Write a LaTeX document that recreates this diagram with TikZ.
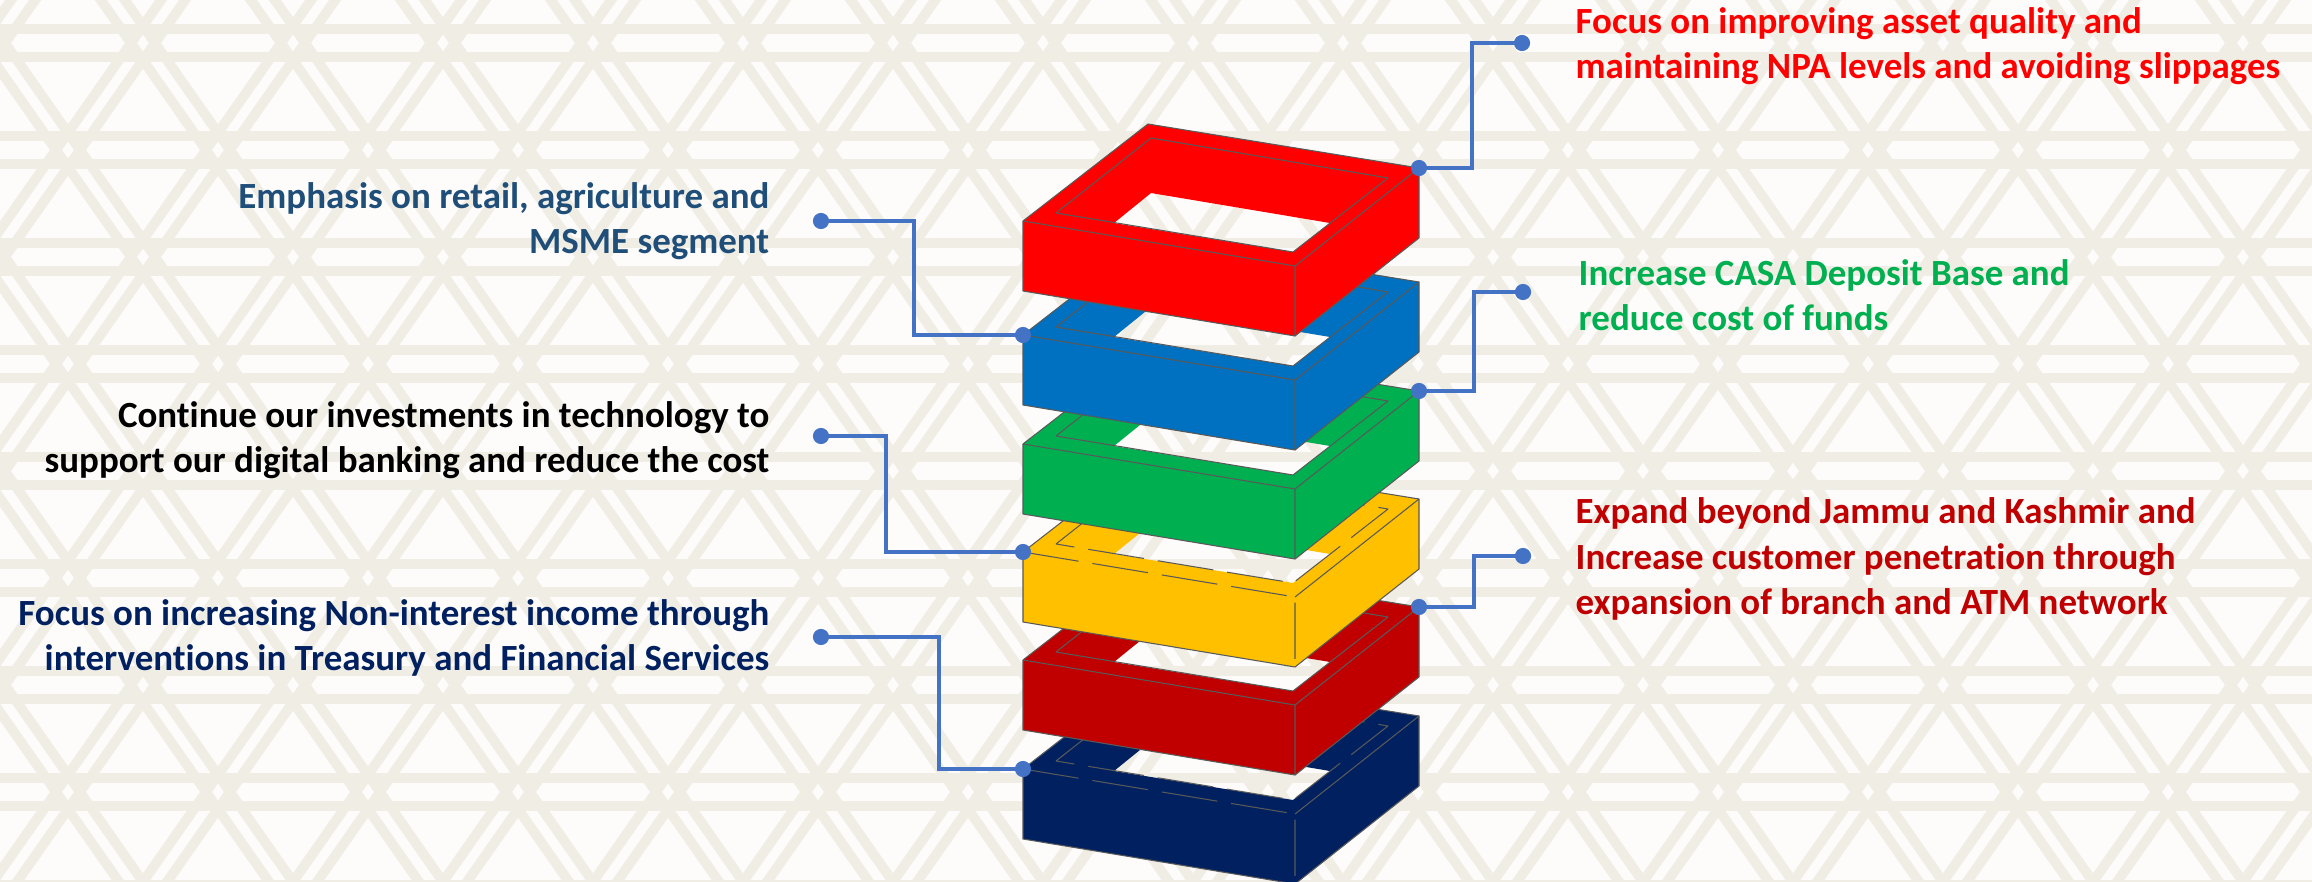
\documentclass[tikz,border=0pt]{standalone}
\usepackage{fontspec}
\setmainfont{Carlito}[Ligatures=NoCommon]
\definecolor{ringred}{HTML}{FF0000}
\definecolor{ringblue}{HTML}{0070C0}
\definecolor{ringgreen}{HTML}{00B050}
\definecolor{ringyellow}{HTML}{FFC000}
\definecolor{ringdred}{HTML}{C00000}
\definecolor{ringnavy}{HTML}{002060}
\definecolor{retailblue}{HTML}{1F4E79}
\definecolor{linkblue}{HTML}{4472C4}
\definecolor{edgegray}{HTML}{595959}
\definecolor{bgline}{HTML}{F0EDE5}
\definecolor{bgpaper}{HTML}{FDFCFB}

\begin{document}
\begin{tikzpicture}[x=0.01cm,y=-0.01cm,
  lattice/.style={draw=bgline,line width=2.8pt},
  edge/.style={draw=edgegray,line width=0.3pt,line join=round},
  whole/.style={},
  broken/.style={dash pattern=on 16pt off 4pt},
  link/.style={draw=linkblue,line width=0.9pt},
  goal/.style={font=\bfseries\fontsize{10.5}{12.9}\selectfont,inner sep=0pt}]
\useasboundingbox (0,0) rectangle (2312,882);
\fill[bgpaper] (0,0) rectangle (2312,882);
% background lattice
\begin{scope}
\clip (0,0) rectangle (2312,882);
\foreach \j in {-1,...,8}
  \foreach \d in {-14,14}
    \draw[lattice] (0,43+107*\j+\d) -- (2312,43+107*\j+\d);
\foreach \i in {-7,...,21}
  \foreach \d in {-12,12} {
    \draw[lattice] (143+150*\i+\d-150,-171) -- (143+150*\i+\d+750,1113);
    \draw[lattice] (143+150*\i+\d+150,-171) -- (143+150*\i+\d-750,1113);
  }
\end{scope}
% stacked rings, bottom one first
\foreach \c/\y/\n/\s in {ringnavy/769/navy/broken,ringdred/660/dred/whole,
                         ringyellow/552/yellow/broken,ringgreen/444/green/whole,
                         ringblue/335/blue/whole,ringred/221/red/whole}{
  \coordinate (\n D) at (1023,\y);
  \coordinate (\n B) at (1419,\y-53);
  \fill[\c,even odd rule] (1023,\y) -- (1148,\y-97) -- (1419,\y-53) -- (1419,\y+17)
    -- (1295,\y+115) -- (1023,\y+70) -- cycle
    (1114,\y+2) -- (1151,\y-28) -- (1330,\y+2) -- (1293,\y+31) -- cycle;
  \draw[edge] (1023,\y) -- (1148,\y-97) -- (1419,\y-53) -- (1419,\y+17)
    -- (1295,\y+115) -- (1023,\y+70) -- cycle;
  \draw[edge] (1295,\y+45) -- (1419,\y-53);
  \draw[edge,\s] (1023,\y) -- (1295,\y+45) -- (1295,\y+115);
  \draw[edge,\s] (1056,\y-8) -- (1151,\y-83) -- (1388,\y-43) -- (1293,\y+31) -- cycle;
}
% goals
\node[goal,text=ringred,anchor=west,align=left] (quality) at (1575,46)
  {Focus on improving asset quality and\\maintaining NPA levels and avoiding slippages};
\node[goal,text=ringgreen,anchor=west,align=left] (casa) at (1578,295)
  {Increase CASA Deposit Base and\\reduce cost of funds};
\node[goal,text=ringdred,anchor=west,align=left] (expand) at (1575,559)
  {Expand beyond Jammu and Kashmir and\\Increase customer penetration through\\expansion of branch and ATM network};
\node[goal,text=retailblue,anchor=east,align=right] (retail) at (770,221)
  {Emphasis on retail, agriculture and\\MSME segment};
\node[goal,anchor=east,align=right] (tech) at (770,440)
  {Continue our investments in technology to\\support our digital banking and reduce the cost};
\node[goal,text=ringnavy,anchor=east,align=right] (income) at (770,638)
  {Focus on increasing Non-interest income through\\interventions in Treasury and Financial Services};
% connectors
\coordinate (qualityDot) at (1522,43);
\coordinate (casaDot) at (1523,292);
\coordinate (expandDot) at (1523,556);
\coordinate (retailDot) at (821,221);
\coordinate (techDot) at (821,436);
\coordinate (incomeDot) at (821,637);
\draw[link] (redB) -- ++(53,0) |- (qualityDot);
\draw[link] (greenB) -- ++(55,0) |- (casaDot);
\draw[link] (dredB) -- ++(55,0) |- (expandDot);
\draw[link] (retailDot) -- ++(93,0) |- (blueD);
\draw[link] (techDot) -- ++(65,0) |- (yellowD);
\draw[link] (incomeDot) -- ++(118,0) |- (navyD);
\foreach \p in {redB,greenB,dredB,blueD,yellowD,navyD,
                qualityDot,casaDot,expandDot,retailDot,techDot,incomeDot}
  \fill[linkblue] (\p) circle (2.3pt);
\end{tikzpicture}
\end{document}
